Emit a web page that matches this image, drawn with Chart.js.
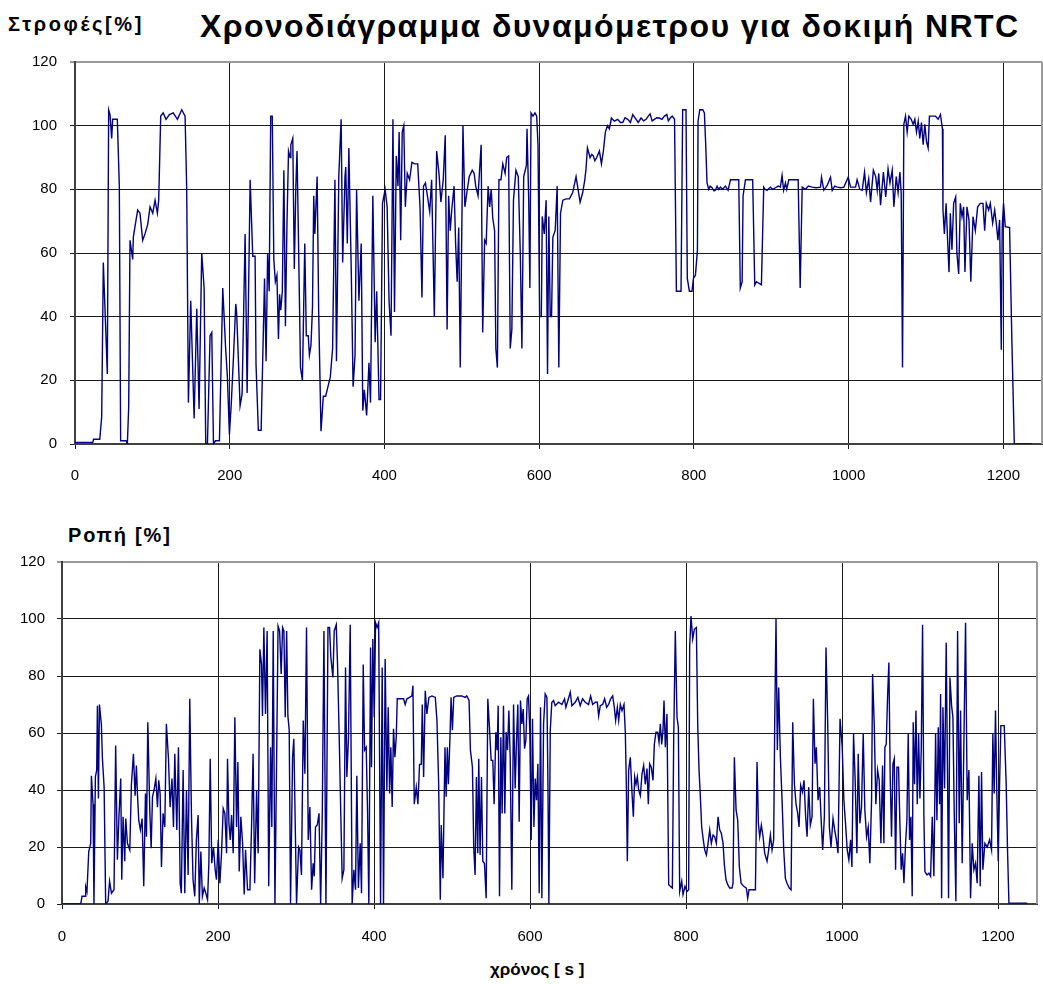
<!DOCTYPE html>
<html lang="el">
<head>
  <meta charset="UTF-8">
  <title>Χρονοδιάγραμμα δυναμόμετρου για δοκιμή NRTC</title>
  <script src="https://cdn.jsdelivr.net/npm/chart.js"></script>
  <style>
    body {
      margin: 0;
      background: #fff;
      width: 1043px;
      height: 984px;
      position: relative;
      overflow: hidden;
      font-family: "Liberation Sans", Arial, sans-serif;
    }
    .box { position: absolute; left: 0; width: 1043px; }
    .lbl { position: absolute; font-weight: bold; color: #000; white-space: nowrap; line-height: 1; }
    #title { left: 200px; top: 10px; font-size: 32px; letter-spacing: 1.4px; }
    #speedLbl { left: 8px; top: 14px; font-size: 20px; letter-spacing: 2.6px; }
    #torqueLbl { left: 68px; top: 525px; font-size: 20px; letter-spacing: 1.8px; }
    #timeLbl { left: 490px; top: 961px; font-size: 17px; }
  </style>
</head>
<body>
  <div class="lbl" id="title">Χρονοδιάγραμμα δυναμόμετρου για δοκιμή NRTC</div>
  <div class="lbl" id="speedLbl">Στροφές[%]</div>
  <div class="lbl" id="torqueLbl">Ροπή [%]</div>
  <div class="lbl" id="timeLbl">χρόνος [ s ]</div>

  <div class="box" style="top:40px;height:470px"><canvas id="speedChart"></canvas></div>
  <div class="box" style="top:510px;height:474px"><canvas id="torqueChart"></canvas></div>

  <script>
    // άξονες
    const xTicks = [0, 200, 400, 600, 800, 1000, 1200];
    const yTicks = [0, 20, 40, 60, 80, 100, 120];

    // Στροφές [%] - [χρόνος s, τιμή %] (εκτίμηση από το διάγραμμα)
    const speedPoints = [
      [0,0.5],[23,0.5],[24,1.5],[32,1.5],[34.5,8.5],[36.6,57],[41.8,22],[43.5,105],[45.3,103.5],[47.4,96],
      [48.7,102],[50.4,102],[54.7,102],[57.3,81],[59,1],[66,1],[67.7,0],[69.4,11.6],[71.1,64],[74.6,58],
      [75.4,65],[78,69],[81,73.5],[84,72.5],[87.5,64],[90.5,66],[94,69],[97,74.5],[100.5,72.5],[103.5,76.6],
      [106.5,72.5],[108.2,76.6],[110.8,103],[114,104],[117.7,102],[122,103.5],[127,104],[132.4,102],[138,105],[142.3,103],
      [144.4,80],[146.6,13],[149.6,45],[154,8],[157.4,42.5],[160.4,11],[163.8,60],[166.9,49],[169,0],[171.2,0],
      [174.6,34],[176.8,35],[179,0],[181.5,1],[186.7,1],[191,49],[194.5,31],[197,21],[199.6,3],[202,12.6],
      [204.8,27],[207.8,44],[209,41],[213.4,12],[216,15.7],[219.9,66],[222.5,16],[226.4,83],[229.8,59],[232.8,59],
      [234,25],[237,4.3],[240.6,4.3],[245,52],[247,26],[249,60],[251,48],[253,103],[255,103],[257,58],
      [259,51],[261,53],[263,33],[264.5,47],[266,42],[268,48],[270,86],[272,37],[274,69],[276,92],
      [278,90],[279,94],[281.5,96],[283.5,55],[285.5,81],[287,92],[288.5,70],[291.5,24],[294,20],[297,63],
      [299,34],[301.5,34],[303,28],[305,31],[307,43],[308.6,78],[310,66],[313,84],[315,41.5],[318,4],
      [321,15],[324,15],[327,18],[330,21],[333,30],[336,83],[338,26],[341,84],[344,102],[346,57],
      [349,84],[350,87],[352,63],[354,93],[357,56],[359.5,18],[362,28],[364,80],[367,45],[370,63],
      [372,10.5],[374,17],[377,9],[380,25.5],[382,13],[385,78],[388,32],[390,48],[393,14],[395,14],
      [397.5,75.6],[400.9,80],[403.5,74.5],[406,44.6],[408.5,34],[411,102],[413,41.5],[415.3,90.5],[417.5,81],[419,98],
      [421,64],[423,98],[425,100],[427,74.5],[429.5,85],[432.5,83],[435.5,88.5],[439,88],[443,88],[446,74.5],
      [448.5,46],[450.5,81],[453,82],[455.5,78],[458.5,73],[461,83],[464.5,40],[467.5,92],[470.5,85],[473,76],
      [476,83],[478.6,97],[481,36],[483,78],[485,67],[487,73.5],[490,81],[492,63],[494,51],[496,68],
      [498,24],[501.5,100],[504,74.5],[506.6,79],[509.6,84],[513.5,86],[516,85],[518,81],[521,78],[525,94],
      [527,35],[529.5,64],[531.5,63],[534,81],[536,74.5],[538,80],[540,71],[542.4,67],[544,30],[546,24],
      [548,83],[550.6,83],[553,88],[556,85],[558,90],[560.5,90.5],[562.6,30],[564.7,36],[566.8,76.6],[570,86],
      [573,84],[575.6,60],[577.7,30],[580,84],[583.5,87.5],[584.3,99],[586.5,76.6],[588,49],[589.5,104],[592,103],
      [594.6,104],[596.8,103],[598.5,94],[600.6,40],[602.8,40],[604,71.5],[606.6,66],[609,76.6],[610.8,22],[612.5,71.5],
      [614.3,40],[616,40],[617.7,65],[620.7,67],[623.3,81],[625.4,24],[627.6,72.5],[630.6,76.6],[635,77],[639,77],
      [643.4,79],[647.7,84],[650.3,80],[652.9,76],[656.3,79],[659,83],[660.6,86.5],[662.4,93],[665.8,90],[668,91],
      [670,90.5],[672,89],[674.4,90],[677.9,92],[680.5,88],[683,92],[685.6,98],[688.2,100],[690.8,99],[693.4,102.4],
      [697.2,101.4],[701.5,102],[705,101],[708,101],[711,102.5],[714.5,102],[718,101],[721,103.5],[725.3,102],[728,101],
      [731.8,102.4],[735,101.5],[738.2,102],[741,103],[743.4,103.7],[746,101.5],[749,102],[752,102.5],[755.5,102.4],[758.8,102],
      [762,103],[765,103.5],[767,101.5],[769.5,102.4],[772,103],[775,102],[777.4,48],[783.4,48],[785.5,105],[789.8,105],
      [791.5,52],[794.2,48],[797.6,48],[799.4,52],[802,53],[804.6,61],[805.4,101.4],[807.6,105],[811.5,105],[813.6,104],
      [815.3,94],[817,82],[819.2,80],[821,81],[823.5,80.5],[826,79.5],[827.8,79.7],[830,81],[832,80],[834.3,80.7],
      [837,80],[840.8,81],[844.2,79.7],[847.3,83],[858,83],[860,49],[862.4,51],[863.6,78],[866.7,83],[876,83],
      [878.7,50],[880.8,51],[887.3,50],[890.3,80.7],[892,80],[894.6,79.7],[898.9,80.7],[902,80],[905.4,80.5],[909,81],
      [911.8,80.7],[914,84.4],[916,79.7],[918.4,82],[920,80],[922.7,83],[934.8,83],[937.4,49],[940,80.7],[944.3,80],
      [948,81],[952.9,80.7],[958,80.5],[963.7,80.7],[965,83.8],[968,79.7],[972.3,81.2],[976.6,83.8],[978.8,79.7],[982,81],
      [985.3,80.7],[990,80.5],[993.9,80.7],[999.5,83.8],[1002.5,80.7],[1009,80.7],[1011,83],[1014.5,80],[1017.6,79.7],[1020.6,85.4],
      [1023,79],[1026,83.3],[1028.4,76],[1032,86],[1035,84],[1037,79.7],[1039,85],[1041.3,75],[1045,85.4],[1048,77.6],
      [1051,86.4],[1053.5,82],[1056.4,86],[1058.5,74.5],[1061.6,84],[1064,79],[1066.3,85.4],[1068,78.7],[1069.7,24],[1071.4,100.4],
      [1073.6,103],[1075.7,98],[1077.9,103],[1080.9,102],[1083.5,100.4],[1085.6,102],[1087.8,98],[1090,101.4],[1092,96],[1094.2,101],
      [1096.4,94],[1098.5,100.4],[1100.7,95],[1102.8,93],[1104.5,103],[1112.3,103],[1115.7,102],[1118.7,103.5],[1121.3,99],[1122,73.5],
      [1123.8,66],[1126,75.6],[1128,64],[1129.8,54],[1131.5,72.5],[1133.6,61],[1135.8,75.6],[1138.4,77.6],[1140,60],[1142.3,53.4],
      [1144.4,75.6],[1146.6,71.4],[1148.7,74.5],[1150.4,54],[1153,74.5],[1155.6,70.4],[1158,51],[1160.8,71.4],[1163.8,67],[1166.8,74.5],
      [1170.3,75.6],[1173.7,75.6],[1175.9,67],[1178,75.6],[1181,73.5],[1183.2,75.6],[1186.2,69.4],[1188.8,73.5],[1190.9,69.4],[1193,64],
      [1195.2,70.4],[1197.4,29.6],[1198.6,68.3],[1200.3,75.6],[1202.5,68.3],[1208.1,68],[1211.1,32],[1214.2,0],[1237,0]
    ];

    // Ροπή [%] - [χρόνος s, τιμή %]
    const torquePoints = [
      [0,0],[24,0],[25.7,2.7],[30,2.7],[30.4,6],[32,4.4],[34.3,18.4],[36.8,21.3],[37.7,45],[39.8,35],
      [41,0],[42.8,44.6],[44.5,47],[45.4,69.6],[46.7,37],[48,70],[50.5,63],[51.8,51],[54,41],[56,0],
      [59,1],[61,8],[63.4,3.8],[66.7,5],[68.8,55.6],[71,15.5],[73,30.6],[75.3,44],[76.6,8.5],[78.3,30.6],
      [80.4,15],[81.7,30],[83.9,21.3],[86.9,19],[89,42],[91.6,52.7],[93.7,38],[95.4,48.6],[96.7,38.8],[98.4,29.4],
      [100.5,26],[102.7,30],[104.8,6.2],[107,38.8],[108.3,23.6],[110,63.8],[112.6,32.4],[114.3,19.6],[116,37.6],[118,40],
      [120.3,44],[122.4,34],[124,43.4],[125.8,38.8],[127.5,13],[129.6,31.8],[131.8,27],[133.8,63.2],[136.5,51],[138.6,34],
      [141,44],[142.9,27],[144.6,52.7],[147.2,26],[149.3,55],[151.5,7.3],[153,3.8],[155.3,47],[157.4,3.8],[159.6,40],
      [161.7,10.2],[163.8,72],[166,30.6],[168,8.5],[170.2,2.7],[172.3,22.5],[174.5,31.2],[176,0],[178,18.4],[180,2.7],
      [182.3,5.6],[184.4,3.8],[186.6,1.5],[188.3,14.3],[190,51],[192,14.3],[194.2,20],[196.4,12],[198,8.5],[200.3,22.5],
      [202.4,7.3],[204.5,17.8],[206.7,33.5],[208.8,31.8],[211,17.8],[212.2,51],[214,28.3],[215.7,22.5],[217.4,31.2],[219.5,17.8],
      [221.6,65.5],[223.8,27],[225.5,49.8],[227.2,11.4],[229.3,30.6],[231.5,21.3],[233.6,3.3],[235.3,19],[237.9,5],[240.9,5],
      [243,27],[245,52.7],[247,7.3],[249.5,40],[251.5,17.8],[253.7,89.4],[255.8,84],[257,66],[258.8,97],[260.9,66.7],
      [263,95.8],[265,6.2],[267.4,55],[269,27],[270.8,95.8],[273,0],[275,47],[277,97.5],[279,95.8],[281,80.7],
      [282.8,97],[284.5,95.8],[286.2,65.5],[288,95.8],[289.6,66],[291.3,61],[293,0],[295.6,51.5],[297.2,58],[299,28.3],
      [300.7,0],[303.3,20],[305,19],[307,10.2],[309.3,64.4],[311.4,45.7],[313.5,97],[315.7,22.5],[317.8,34],[320,5],
      [322,14.3],[323.4,9.7],[325,27],[327.3,27.7],[329.5,31.8],[331.6,0],[333.7,31.8],[335.8,95.8],[338.4,0],[341,97],
      [343,97],[344.7,86.5],[347.3,79.5],[349,95.8],[351.6,98],[353.3,83.6],[355.4,58.5],[357.5,30.6],[359.2,9],[361.4,12],
      [363.5,83],[365.2,44.6],[367.3,58.5],[369.5,98],[372,0],[374.2,12],[376.3,5],[378,45],[380,5.6],[382.3,21.3],
      [384,3.8],[386.2,84],[387.9,54],[390,55],[391.7,33],[393.4,0],[395.6,90],[396.8,48],[398.5,93],[400.3,65.5],
      [402,98.7],[404,97],[406,98.7],[408.4,0],[410.5,83],[412.2,0],[414.3,86],[416.5,40],[418.2,69],[420,38.8],
      [421.6,55],[423.3,34],[425,61.5],[426.8,51.5],[428.5,58.5],[429.8,72],[433.6,72],[437.9,72],[440,70],[442.2,72],
      [445.6,72.5],[448.6,73],[449.9,76.6],[451.6,35],[454.2,41],[456.3,35],[458.4,49],[460.6,49],[461.9,70],[463.6,44.6],
      [465.7,74.8],[467.8,66.7],[470.4,72.5],[474.3,73],[478.6,72.5],[480.7,64.4],[482.8,43.4],[485,1.5],[486.2,27.7],[488.4,9],
      [491,55],[492.5,37.6],[494,55],[495.4,42],[497.6,60.3],[498.8,72.5],[500.5,61],[502.2,72.5],[506,73],[512.5,73],
      [516.8,72.5],[518.9,73],[521.9,71.4],[523.6,54],[526.2,48],[527.9,19.6],[529.6,10.2],[531.3,44.6],[533,17.8],[534.3,51],
      [536,17.2],[537.8,44.6],[539.5,15],[541.6,14.3],[543.8,2],[545.9,72],[548,62],[550.2,50.4],[552.3,50.4],[554,35],
      [556.2,60.3],[557.9,54],[559.2,69.6],[560.9,2.7],[562.6,58.5],[564.3,31.8],[566,69.6],[567.7,31.8],[569.4,60.3],[571.2,54],
      [572.9,67.9],[574.6,51.5],[576.7,5],[578.9,70],[581,40.5],[582.7,57.4],[584.4,70],[586.1,28.9],[587.8,71.4],[589.6,63.2],
      [591.3,68.4],[593,54.5],[594.7,57.4],[596.4,72],[598.1,73],[599.8,60.3],[601.5,22.5],[603.2,65],[605,27],[606.7,44],
      [608.4,36.4],[610.1,49.2],[611.8,3.8],[613.5,69],[615.2,2],[617.4,63.2],[619.5,73.7],[621.7,72.5],[623,42],[624.2,0],
      [626,61],[628,70.8],[630.2,71.4],[632.3,69.6],[636.6,70.8],[640.9,70],[644.3,72],[646,69],[648.6,71.4],[651.6,74.3],
      [653.7,69.6],[658,70.8],[661.4,72.5],[664.4,69.6],[667.4,72],[670.8,70.8],[675.1,70],[677.7,73],[680.3,70],[683.7,70.8],
      [686.3,70.8],[688,66],[690.1,69.6],[693.1,70],[695.7,72],[698.3,69],[700.8,70],[703.4,72],[706,73],[708.1,69],
      [709.8,64.4],[712,69],[713.7,64.4],[715.8,70],[718,67.9],[720.5,70],[722.2,60.3],[723.5,42],[724.8,15],[726.5,47],
      [728.6,51.5],[730.8,38.8],[732.5,30.6],[734.2,44.6],[735.9,42],[737.6,44.6],[739.3,40],[741.5,38],[743.6,45.7],[745.7,48.6],
      [747.8,42],[750,47.5],[751.7,35],[753.4,49.2],[755.5,48],[757.7,43.4],[759.4,56],[761.5,60.3],[763.7,60.3],[765.4,56.8],
      [767.1,63.2],[768.8,56],[770.5,61],[771.8,71.4],[773.5,55],[775.6,66.7],[777.8,6.8],[779.9,6.2],[782.5,5.6],[784.2,57.4],
      [786.3,95.8],[788.5,65.5],[790.2,62],[791.9,4.4],[794.5,8],[796.2,3.3],[798.7,6.2],[801.3,4.4],[803.4,5],[804.7,90],
      [806.4,101],[808.6,93],[810.7,96.4],[813.3,97],[815,63.2],[816.7,47],[818.4,37.6],[820.1,27],[821.9,23],[824,19],
      [826.1,17.2],[828.3,21.3],[830.4,26],[832.5,21.3],[834.7,24.2],[836.8,23.6],[838.9,21.3],[841.1,30.6],[843.2,26],[845.3,24.8],
      [847.5,21.3],[849.2,13.7],[851.3,8.5],[853.5,6.8],[856,5.6],[859,5.6],[860.3,7.3],[862,51.5],[864.2,33],[866.3,29.4],
      [868.4,13],[870.6,7.3],[874,6.2],[877.4,5.6],[879.1,2],[880.8,5],[889,5],[891.1,49.8],[892.8,28.3],[894.5,23.6],
      [896.6,27.7],[898.8,23.6],[900.9,17.8],[903.9,15],[906,19],[908.2,24.2],[910.3,19],[912.4,22.5],[913.7,62.6],[915.4,100],
      [917.1,54],[918.8,76],[921,51.5],[923.1,37],[925.3,19],[927.4,9],[929.5,7.3],[932.5,5.6],[934.7,5],[936.8,63.8],
      [939,42],[941.1,35],[943.2,31.8],[944.9,27],[947,41.6],[949.2,39.3],[951.3,43.4],[953.4,30.6],[955.2,23.6],[957.3,41],
      [959.4,27.7],[961.6,30.6],[963.3,72],[965.4,49.2],[967.1,55],[969.3,36.4],[971.4,41],[973.5,28.3],[975.2,19],[977.4,30.6],
      [979.5,90],[981.6,64.4],[983.8,27],[985.9,20],[988.5,30],[990.6,26],[992.8,22.5],[994.9,17.8],[997.5,65],[1000.3,55],
      [1002.4,36.4],[1004.5,28.3],[1006.7,19],[1008.8,15.5],[1011,22.5],[1012.7,13],[1014.8,59.7],[1016.9,43.4],[1019.1,17.8],[1020.8,52.7],
      [1022.9,28.3],[1025,34],[1027.2,59.7],[1029.3,33],[1031.5,23.6],[1033.6,27],[1035.7,14.3],[1037.9,36.4],[1039.2,80.7],[1041.3,63.2],
      [1043.4,35],[1045.6,47],[1047.7,43.4],[1049.9,21.3],[1052,48.6],[1053.7,21.3],[1055,55],[1056.7,56],[1058.4,72.5],[1060.1,84.7],
      [1061.8,44.6],[1063.5,23.6],[1065.3,49.2],[1067,51],[1068.7,12],[1070.4,48],[1072.5,48],[1074.2,28.3],[1075.9,12],[1077.7,17.8],
      [1079.4,7.3],[1081.5,21.3],[1083.2,29.4],[1084.9,59.7],[1086.6,22.5],[1088.3,30.6],[1090,2.7],[1091.3,63.8],[1093,42],[1094.8,67.9],
      [1096.5,35],[1098.2,59.7],[1099.9,37],[1101.6,54],[1103.3,98],[1105,30.6],[1106.3,11.4],[1108.9,10.2],[1111.4,10.8],[1113.6,9.7],
      [1115.7,30.6],[1117.8,9.7],[1120,59.7],[1121.7,29.4],[1123.4,62],[1125.1,35],[1126.4,73.7],[1127.7,2],[1129.4,69],[1131.5,40.5],
      [1133.6,91.7],[1135.4,42],[1136.6,2],[1138.4,79.5],[1140.5,69.6],[1142.2,65.5],[1143.9,31.8],[1146,1],[1148.2,95.8],[1150.3,28.3],
      [1152,67.9],[1154.1,14.3],[1156.3,57.4],[1158.4,98.7],[1160.5,36.4],[1162.7,47],[1164.8,2],[1166.9,21.3],[1169.1,12],[1171.2,14.3],
      [1173.3,7.3],[1175.5,45],[1177.2,6.2],[1178.9,46.3],[1180.6,12],[1183.2,21.3],[1186.2,20],[1189.2,22.5],[1191.7,19],[1193.4,59.7],
      [1195.1,38.8],[1196.8,67.9],[1198.5,38.8],[1200.3,15],[1202,42],[1203.7,62.6],[1208,62.6],[1210.5,42],[1212.2,19],[1214,0.3],
      [1237.5,0.3]
    ];

    const lineColor = '#000080';
    const tickFont = { family: "'Liberation Sans Narrow', 'Liberation Sans', Arial, sans-serif", size: 15 };

    // πλαίσιο δεξιά της περιοχής σχεδίασης
    const framePlugin = {
      id: 'frame',
      afterDraw(chart) {
        const a = chart.chartArea, c = chart.ctx;
        c.save();
        c.strokeStyle = '#9a9a9a';
        c.lineWidth = 2;
        c.beginPath();
        c.moveTo(a.right, a.top);
        c.lineTo(a.right, a.bottom);
        c.stroke();
        c.restore();
      }
    };

    function makeChart(id, points, lay) {
      const ctx = document.getElementById(id).getContext('2d');
      return new Chart(ctx, {
        type: 'scatter',
        data: {
          datasets: [{
            data: points.map(p => ({ x: p[0], y: p[1] })),
            showLine: true,
            borderColor: lineColor,
            borderWidth: 1.4,
            pointRadius: 0,
            tension: 0
          }]
        },
        options: {
          responsive: true,
          maintainAspectRatio: false,
          animation: false,
          layout: { padding: { top: lay.top, right: lay.right, left: 0, bottom: 0 } },
          plugins: { legend: { display: false }, tooltip: { enabled: false } },
          scales: {
            x: {
              type: 'linear',
              min: 0,
              max: 1250,
              afterBuildTicks: s => { s.ticks = xTicks.map(v => ({ value: v })); },
              afterFit: s => { s.height = lay.xh; },
              grid: { color: '#1a1a1a', lineWidth: 1, tickLength: 5 },
              border: { color: '#404040', width: 2 },
              ticks: {
                color: '#000', font: tickFont, padding: lay.xpad, maxRotation: 0, autoSkip: false,
                callback: v => String(v)
              }
            },
            y: {
              min: 0,
              max: 120,
              afterBuildTicks: s => { s.ticks = yTicks.map(v => ({ value: v })); },
              afterFit: s => { s.width = lay.yw; },
              grid: {
                color: c => (c.tick && c.tick.value === 120 ? '#9a9a9a' : '#1a1a1a'),
                lineWidth: c => (c.tick && c.tick.value === 120 ? 2 : 1),
                tickLength: 5
              },
              border: { color: '#404040', width: 2 },
              ticks: { color: '#000', font: tickFont, padding: lay.ypad, callback: v => String(v) }
            }
          }
        },
        plugins: [framePlugin]
      });
    }

    makeChart('speedChart', speedPoints, { top: 16, right: 1, xh: 66, yw: 75, xpad: 18, ypad: 13 });
    makeChart('torqueChart', torquePoints, { top: 52, right: 6, xh: 80, yw: 62, xpad: 19, ypad: 12 });
  </script>
</body>
</html>
